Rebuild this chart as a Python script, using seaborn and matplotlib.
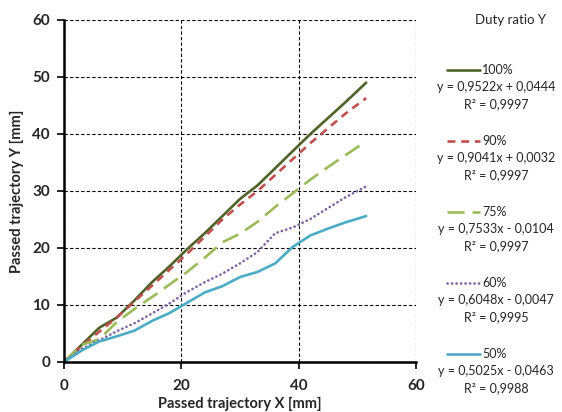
import numpy as np
import pandas as pd
import matplotlib
matplotlib.use("Agg")
import matplotlib.pyplot as plt
import seaborn as sns
from matplotlib.lines import Line2D

# ---- data ----
x_vals = [0, 3, 6, 9, 12, 15, 18, 21, 24, 27, 30, 33, 36, 39, 42, 45, 48, 51.5]
y_100 = [0, 3.0, 6.0, 7.8, 10.8, 14.0, 16.8, 19.8, 22.6, 25.6, 28.6, 31.0, 34.0, 37.0, 40.0, 42.8, 45.6, 49.0]
y_90 = [0, 2.8, 5.3, 7.8, 10.6, 13.4, 16.2, 19.0, 22.0, 25.0, 27.6, 30.0, 32.8, 35.6, 38.4, 41.0, 43.6, 46.3]
y_75 = [0, 3.0, 4.0, 7.0, 9.3, 11.4, 13.6, 15.8, 18.3, 21.0, 22.5, 24.6, 27.2, 29.6, 32.0, 34.2, 36.3, 38.7]
y_60 = [0, 2.3, 3.8, 5.4, 6.8, 8.5, 10.3, 12.3, 14.0, 15.5, 17.3, 19.3, 22.6, 23.6, 25.1, 27.0, 28.9, 30.8]
y_50 = [0, 2.0, 3.6, 4.5, 5.5, 7.2, 8.6, 10.4, 12.2, 13.3, 14.9, 15.8, 17.3, 20.2, 22.2, 23.4, 24.5, 25.6]
series_names = ["100%", "90%", "75%", "60%", "50%"]
equations = ["y = 0,9522x + 0,0444", "y = 0,9041x + 0,0032", "y = 0,7533x - 0,0104",
             "y = 0,6048x - 0,0047", "y = 0,5025x - 0,0463"]
r2_labels = ["R² = 0,9997", "R² = 0,9997", "R² = 0,9997", "R² = 0,9995", "R² = 0,9988"]
x_ticks = [0, 20, 40, 60]
y_ticks = [0, 10, 20, 30, 40, 50, 60]

colors = {"100%": "#4F6228", "90%": "#C0504D", "75%": "#9BBB59", "60%": "#8064A2", "50%": "#4BACC6"}
dashes = {"100%": "", "90%": (3, 2.2), "75%": (6.5, 3), "60%": (0.1, 1.6), "50%": ""}
LW = 1.9

df = pd.concat([
    pd.DataFrame({"x": x_vals, "y": ys, "duty": name})
    for name, ys in zip(series_names, [y_100, y_90, y_75, y_60, y_50])
])

sns.set_style("white")
plt.rcParams["font.family"] = ["Lato", "DejaVu Sans"]

fig = plt.figure(figsize=(5.62, 4.12), dpi=100)
ax = fig.add_axes([0.1139, 0.1214, 0.6263, 0.8301])

sns.lineplot(data=df, x="x", y="y", hue="duty", style="duty", hue_order=series_names,
             style_order=series_names, palette=colors, dashes=dashes, linewidth=LW,
             legend=False, ax=ax, estimator=None, sort=False)
for ln in ax.get_lines():
    if ln.get_color() == colors["60%"]:
        ln.set_dash_capstyle("round")
    ln.set_solid_joinstyle("round")
    ln.set_dash_joinstyle("round")

ax.set_xlim(0, 60)
ax.set_ylim(0, 60)
ax.set_xticks(x_ticks)
ax.set_yticks(y_ticks)
ax.grid(True, color="black", linestyle=(0, (3, 2)), linewidth=0.8)
ax.set_axisbelow(True)
for s in ["top", "right"]:
    ax.spines[s].set_visible(False)
for s in ["left", "bottom"]:
    ax.spines[s].set_color("black")
    ax.spines[s].set_linewidth(1.8)
ax.tick_params(axis="both", direction="out", length=5, width=1.2, color="black",
               labelsize=11, left=True, bottom=True)
ax.tick_params(axis="x", pad=7)
ax.tick_params(axis="y", pad=5)
for lab in ax.get_xticklabels() + ax.get_yticklabels():
    lab.set_fontweight("bold")
ax.set_xlabel("Passed trajectory X [mm]", fontsize=10.5, fontweight="bold", labelpad=3)
ax.set_ylabel("Passed trajectory Y [mm]", fontsize=10.5, fontweight="bold", labelpad=6)

# ---- legend (manual) ----
W, H = 562.0, 412.0
fig.text(511 / W, 1 - 20 / H, "Duty ratio Y", ha="center", va="center", fontsize=9.5)
row_y = [70, 141, 212, 283, 354]
for name, eq, r2, yy in zip(series_names, equations, r2_labels, row_y):
    line = Line2D([447 / W, 480 / W], [1 - yy / H, 1 - yy / H], transform=fig.transFigure,
                  color=colors[name], linewidth=LW)
    if dashes[name]:
        line.set_dashes(dashes[name])
        if name == "60%":
            line.set_dash_capstyle("round")
    fig.add_artist(line)
    fig.text(482 / W, 1 - yy / H, name, ha="left", va="center", fontsize=9)
    fig.text(496 / W, 1 - (yy + 17) / H, eq, ha="center", va="center", fontsize=9)
    fig.text(496 / W, 1 - (yy + 34) / H, r2, ha="center", va="center", fontsize=9)

fig.savefig("out.png", dpi=100)
